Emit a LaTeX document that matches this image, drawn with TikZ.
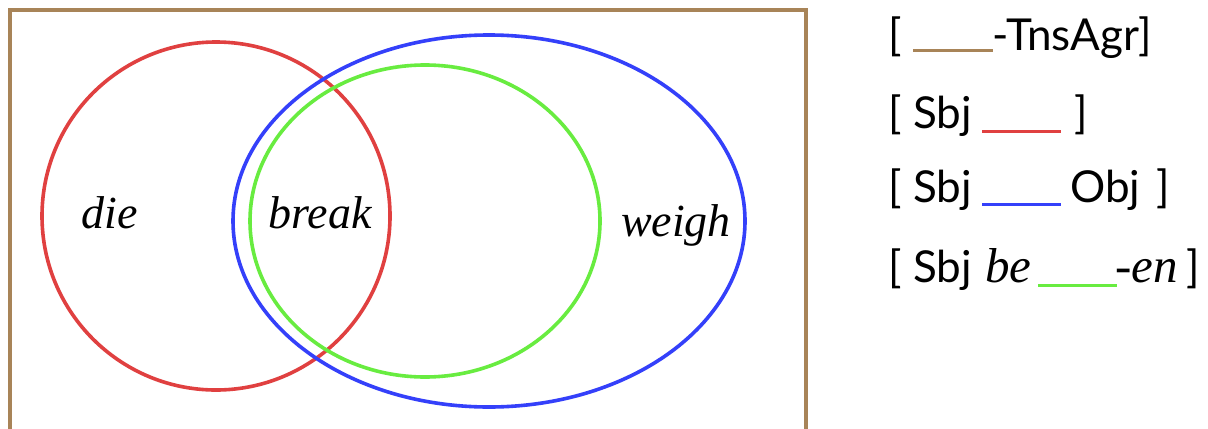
\documentclass[tikz,border=0pt]{standalone}
\usepackage{fontspec}
\setmainfont{Liberation Serif}
\newfontfamily\legfont{Lato}
\definecolor{boxbrown}{RGB}{168,132,88}
\definecolor{cred}{RGB}{224,64,64}
\definecolor{cblue}{RGB}{52,64,250}
\definecolor{cgreen}{RGB}{104,236,64}
\begin{document}
\begin{tikzpicture}[x=0.5pt,y=-0.5pt,
  setline/.style={line width=1.8pt},
  lab/.style={font=\fontsize{23}{26}\selectfont\itshape, anchor=base, inner sep=0pt},
  leg/.style={font=\fontsize{22}{26}\selectfont\legfont, anchor=base west, inner sep=0pt},
  legit/.style={font=\fontsize{24.5}{28}\selectfont\itshape, anchor=base west, inner sep=0pt},
  uline/.style={line width=1.5pt}]
\useasboundingbox (0,0) rectangle (1208,428);
\clip (0,0) rectangle (1208,428);
\fill[white] (0,0) rectangle (1208,428);
% frame
\draw[boxbrown, line width=1.8pt] (10,450) -- (10,10) -- (806,10) -- (806,450);
% sets
\draw[setline, cred] (216,216) ellipse [x radius=174, y radius=174];
\draw[setline, cblue] (489,221) ellipse [x radius=256, y radius=186];
\draw[setline, cgreen] (425,221) ellipse [x radius=175, y radius=156];
% labels
\node[lab] (die) at (110,228) {die};
\node[lab] (break) at (320,228) {break};
\node[lab] (weigh) at (676,236) {weigh};
% legend line 1
\node[leg] (a1) at (888,50) {[};
\coordinate (u1s) at (913,50); \coordinate (u1e) at (993,50);
\draw[uline, boxbrown] (u1s) -- (u1e);
\node[leg] (a2) at (992,50) {-TnsAgr]};
% legend line 2
\node[leg] (b1) at (888,128) {[};
\node[leg] (b2) at (913,128) {Sbj};
\coordinate (u2s) at (982,131); \coordinate (u2e) at (1061,131);
\draw[uline, cred] (u2s) -- (u2e);
\node[leg] (b3) at (1074,128) {]};
% legend line 3
\node[leg] (c1) at (888,202) {[};
\node[leg] (c2) at (913,202) {Sbj};
\coordinate (u3s) at (982,204); \coordinate (u3e) at (1061,204);
\draw[uline, cblue] (u3s) -- (u3e);
\node[leg] (c3) at (1070,202) {Obj};
\node[leg] (c4) at (1156,202) {]};
% legend line 4
\node[leg] (d1) at (888,282) {[};
\node[leg] (d2) at (913,282) {Sbj};
\node[legit] (d3) at (985,282) {be};
\coordinate (u4s) at (1038,285); \coordinate (u4e) at (1117,285);
\draw[uline, cgreen] (u4s) -- (u4e);
\node[legit] (d4) at (1115,282) {-en};
\node[leg] (d5) at (1186,282) {]};
\end{tikzpicture}
\end{document}
